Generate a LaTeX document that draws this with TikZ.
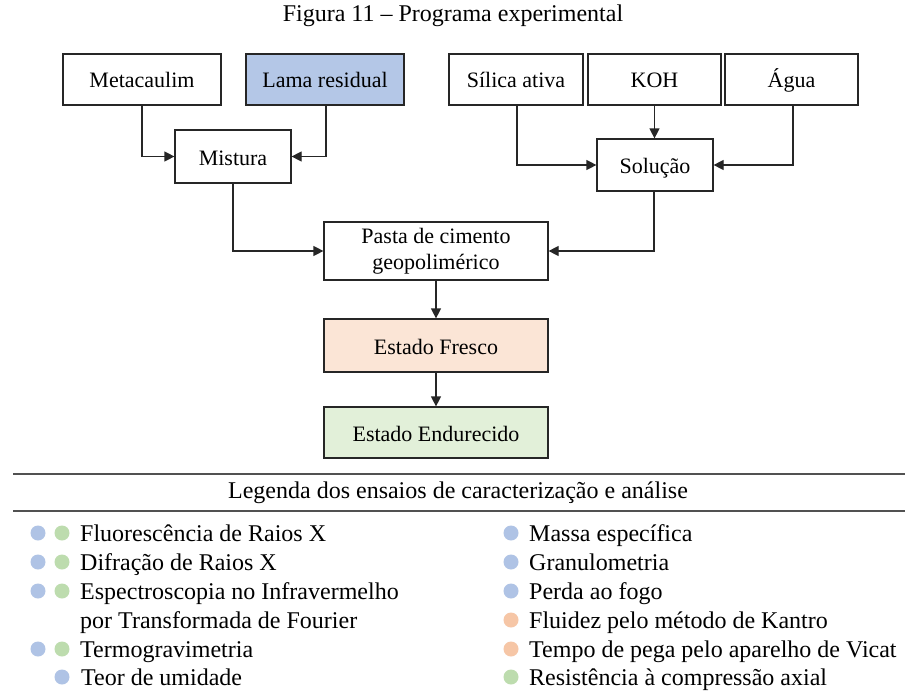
\documentclass[tikz,border=0pt]{standalone}
\usepackage{fontspec}
\setmainfont{Liberation Serif}
\usetikzlibrary{arrows.meta}
\definecolor{lamablue}{HTML}{B4C7E7}
\definecolor{frescofill}{HTML}{FBE5D6}
\definecolor{endfill}{HTML}{E2F0D9}
\definecolor{dotblue}{HTML}{AFC3E5}
\definecolor{dotgreen}{HTML}{BDDCAE}
\definecolor{dotorange}{HTML}{F6C6A6}
\definecolor{edge}{HTML}{262626}
\tikzset{
  box/.style={draw=edge, line width=1.2pt, fill=white, inner sep=0pt,
    font=\fontsize{22}{26}\selectfont, text height=18pt, text depth=1pt},
  twoline/.style={draw=edge, line width=1.2pt, fill=white, inner sep=0pt,
    font=\fontsize{22}{26}\selectfont, align=center},
  flow/.style={draw=edge, line width=1.2pt, -{Triangle[length=10pt,width=10pt]}},
  rule/.style={draw=edge!80, line width=1.3pt},
  legtext/.style={font=\fontsize{24}{28}\selectfont, anchor=base west, inner sep=0pt},
  bdot/.style={circle, fill=dotblue, minimum size=15pt, inner sep=0pt},
  gdot/.style={circle, fill=dotgreen, minimum size=15pt, inner sep=0pt},
  odot/.style={circle, fill=dotorange, minimum size=15pt, inner sep=0pt}
}
\begin{document}
\begin{tikzpicture}[x=1pt, y=-1pt]
\useasboundingbox (0,0) rectangle (905,693);
\fill[white] (0,0) rectangle (905,693);

% title
\node[font=\fontsize{24}{28}\selectfont, anchor=base, inner sep=0pt] (title) at (453,22) {Figura 11 – Programa experimental};

% top row
\node[box, minimum width=158pt, minimum height=51pt] (meta) at (142,79.5) {Metacaulim};
\node[box, minimum width=158pt, minimum height=51pt, fill=lamablue] (lama) at (325,79.5) {Lama residual};
\node[box, minimum width=134pt, minimum height=51pt] (silica) at (516,79.5) {Sílica ativa};
\node[box, minimum width=133pt, minimum height=51pt] (koh) at (654.5,79.5) {KOH};
\node[box, minimum width=133pt, minimum height=51pt] (agua) at (791.5,79.5) {Água};

% second row
\node[box, minimum width=116pt, minimum height=53pt] (mistura) at (233,156.5) {Mistura};
\node[box, minimum width=116pt, minimum height=52pt] (solucao) at (655,165) {Solução};

% main column
\node[twoline, minimum width=224pt, minimum height=58pt] (pasta) at (436,251) {Pasta de cimento\\geopolimérico};
\node[box, minimum width=224pt, minimum height=53pt, fill=frescofill] (fresco) at (436,345.5) {Estado Fresco};
\node[box, minimum width=224pt, minimum height=51pt, fill=endfill] (endur) at (436,432.5) {Estado Endurecido};

% connectors
\draw[flow] (meta.south) |- (mistura.west);
\draw[flow] ([xshift=1pt]lama.south) |- (mistura.east);
\draw[flow] ([xshift=1pt]silica.south) |- (solucao.west);
\draw[flow] (koh.south) -- (koh.south |- solucao.north);
\draw[flow] ([xshift=1.5pt]agua.south) |- (solucao.east);
\draw[flow] (mistura.south) |- (pasta.west);
\draw[flow] ([xshift=-1pt]solucao.south) |- (pasta.east);
\draw[flow] (pasta.south) -- (fresco.north);
\draw[flow] (fresco.south) -- (endur.north);

% legend
\coordinate (r1a) at (13,474);
\coordinate (r1b) at (905,474);
\coordinate (r2a) at (13,511);
\coordinate (r2b) at (905,511);
\draw[rule] (r1a) -- (r1b);
\draw[rule] (r2a) -- (r2b);
\node[font=\fontsize{24}{28}\selectfont, anchor=base, inner sep=0pt] (legtitle) at (458,498) {Legenda dos ensaios de caracterização e análise};

% left column
\node[bdot] (d1b) at (38,533) {};
\node[gdot] (d1g) at (62,533) {};
\node[legtext] (t1) at (80,541) {Fluorescência de Raios X};
\node[bdot] (d2b) at (38,562) {};
\node[gdot] (d2g) at (62,562) {};
\node[legtext] (t2) at (80,570) {Difração de Raios X};
\node[bdot] (d3b) at (38,591) {};
\node[gdot] (d3g) at (62,591) {};
\node[legtext] (t3) at (80,599) {Espectroscopia no Infravermelho};
\node[legtext] (t3b) at (80,628) {por Transformada de Fourier};
\node[bdot] (d4b) at (38,649) {};
\node[gdot] (d4g) at (62,649) {};
\node[legtext] (t4) at (80,657) {Termogravimetria};
\node[bdot] (d5b) at (62,677) {};
\node[legtext] (t5) at (81,685) {Teor de umidade};

% right column
\node[bdot] (e1) at (511,533) {};
\node[legtext] (u1) at (529,541) {Massa específica};
\node[bdot] (e2) at (511,562) {};
\node[legtext] (u2) at (529,570) {Granulometria};
\node[bdot] (e3) at (511,591) {};
\node[legtext] (u3) at (529,599) {Perda ao fogo};
\node[odot] (e4) at (511,620) {};
\node[legtext] (u4) at (529,628) {Fluidez pelo método de Kantro};
\node[odot] (e5) at (511,649) {};
\node[legtext] (u5) at (529,657) {Tempo de pega pelo aparelho de Vicat};
\node[gdot] (e6) at (511,677) {};
\node[legtext] (u6) at (529,685) {Resistência à compressão axial};
\end{tikzpicture}
\end{document}
